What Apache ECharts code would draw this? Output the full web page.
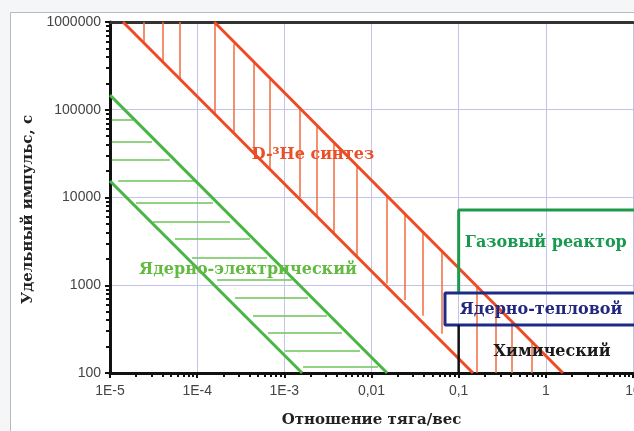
<!DOCTYPE html>
<html>
<head>
<meta charset="utf-8">
<script src="https://cdn.jsdelivr.net/npm/echarts@6/dist/echarts.min.js"></script>
<style>html,body{margin:0;padding:0;background:#f4f6f8;}#c{width:634px;height:431px;}</style>
</head>
<body>
<div id="c"></div>
<script>
// ---- data ----
const xTickLabels = ['1E-5', '1E-4', '1E-3', '0,01', '0,1', '1', '10'];
const yTickLabels = ['100', '1000', '10000', '100000', '1000000'];

// D-3He fusion band boundaries (thrust/weight, specific impulse)
const redUpper = [[1.57e-4, 1e6], [1.57, 100]];
const redLower = [[1.41e-5, 1e6], [0.146, 100]];
// vertical hatching of the D-3He band
const redHatchX = [2.45e-5, 4.06e-5, 6.35e-5, 1.60e-4, 2.65e-4, 4.49e-4, 6.85e-4, 1.51e-3, 2.37e-3, 3.72e-3, 6.82e-3, 0.0151, 0.0242, 0.0390, 0.0644, 0.162, 0.268, 0.409, 0.693];
const redHatchTop = [1e6, 1e6, 1e6, 1e6, 5.6e5, 3.5e5, 2.3e5, 1.0e5, 6.6e4, 4.2e4, 2.3e4, 1.04e4, 6400, 4000, 2400, 960, 580, 380, 225];
const redHatchBottom = [5.75e5, 3.5e5, 2.23e5, 9.2e4, 5.6e4, 3.2e4, 2.1e4, 1.0e4, 6100, 3900, 2100, 1050, 680, 450, 280, 100, 100, 100, 100];

// Nuclear-electric band boundaries
const greenUpper = [[1e-5, 1.47e5], [0.0151, 100]];
const greenLower = [[1e-5, 15400], [0.0016, 100]];
// horizontal hatching of the nuclear-electric band
const greenHatchY = [76400, 42900, 26700, 15400, 8650, 5260, 3370, 2050, 1150, 716, 447, 286, 178, 117];
const greenHatchStart = [1.05e-5, 1.05e-5, 1.05e-5, 1.24e-5, 1.99e-5, 3.11e-5, 5.57e-5, 8.73e-5, 1.69e-4, 2.72e-4, 4.37e-4, 6.50e-4, 1.02e-3, 1.64e-3];
const greenHatchEnd = [1.84e-5, 3.03e-5, 4.87e-5, 9.95e-5, 1.52e-4, 2.38e-4, 4.04e-4, 6.32e-4, 1.22e-3, 1.87e-3, 3.08e-3, 4.58e-3, 7.38e-3, 0.01186];

// regions
const gasBox = [[0.1, 817], [0.1, 7210], [20, 7210]];
const thermalBox = [[20, 817], [0.0697, 817], [0.0697, 352], [20, 352]];
const chemLine = [[0.1, 352], [0.1, 100]];

const regionNames = ['D-³He синтез', 'Ядерно-электрический', 'Газовый реактор', 'Ядерно-тепловой', 'Химический'];
const regionAnchors = [[2.13e-3, 30500], [3.83e-4, 1490], [1.0, 3030], [0.88, 522], [1.18, 173]];
const regionColors = ['#e8502a', '#62ba40', '#179a4f', '#23287e', '#1a1a1a'];

// ---- chart ----
const minorVals = [];
for (let e = -5; e <= 0; e++) for (let m = 1; m <= 9; m++) minorVals.push(m * Math.pow(10, e));
minorVals.push(10);
const minorValsY = [];
for (let e = 2; e <= 5; e++) for (let m = 1; m <= 9; m++) minorValsY.push(m * Math.pow(10, e));
minorValsY.push(1e6);

const redHatch = redHatchX.map((x, i) => ({ coords: [[x, redHatchTop[i]], [x, redHatchBottom[i]]] }));
const greenHatch = greenHatchY.map((y, i) => ({ coords: [[greenHatchStart[i], y], [greenHatchEnd[i], y]] }));

const serif = 'DejaVu Serif';
const tickFont = { fontFamily: 'Liberation Sans', fontSize: 14, color: '#444' };
const chart = echarts.init(document.getElementById('c'));
chart.setOption({
  backgroundColor: '#f4f6f8',
  animation: false,
  graphic: [{
    type: 'rect', left: 10, top: 12, z: -10,
    shape: { width: 700, height: 500 },
    style: { fill: '#ffffff', stroke: '#b9b9b9', lineWidth: 1 }
  }],
  grid: { left: 110, right: 1, top: 22, bottom: 58, outerBoundsMode: 'none', containLabel: false },
  xAxis: [{
    type: 'log', logBase: 10, min: 1e-5, max: 10, interval: 1, position: 'bottom',
    name: 'Отношение тяга/вес', nameLocation: 'middle', nameGap: 40,
    nameTextStyle: { fontFamily: serif, fontWeight: 'bold', fontSize: 15, color: '#222' },
    axisLine: { lineStyle: { color: '#111', width: 3 } },
    axisTick: { show: true, length: 5, lineStyle: { color: '#111', width: 2 } },
    axisLabel: Object.assign({ margin: 11, hideOverlap: false, formatter: v => xTickLabels[Math.round(Math.log10(v)) + 5] }, tickFont),
    splitLine: { show: true, lineStyle: { color: '#c4c4ea', width: 1 } }
  }, {
    type: 'log', logBase: 10, min: 1e-5, max: 10, position: 'top',
    axisLine: { show: true, lineStyle: { color: '#333', width: 3 } },
    axisTick: { show: false }, axisLabel: { show: false }, splitLine: { show: false }
  }, {
    type: 'log', logBase: 10, min: 1e-5, max: 10, position: 'bottom', offset: 0,
    axisLine: { show: false },
    axisTick: { show: true, customValues: minorVals, length: 4, lineStyle: { color: '#111', width: 2 } },
    axisLabel: { show: false }, splitLine: { show: false }
  }],
  yAxis: [{
    type: 'log', logBase: 10, min: 100, max: 1e6, interval: 1, position: 'left',
    name: 'Удельный импульс, с', nameLocation: 'middle', nameGap: 73, nameRotate: 90,
    nameTextStyle: { fontFamily: serif, fontWeight: 'bold', fontSize: 15, color: '#222', padding: [0, 24, 0, 0] },
    axisLine: { lineStyle: { color: '#111', width: 3 } },
    axisTick: { show: true, length: 5, lineStyle: { color: '#111', width: 2 } },
    axisLabel: Object.assign({ margin: 9, formatter: v => yTickLabels[Math.round(Math.log10(v)) - 2] }, tickFont),
    splitLine: { show: true, lineStyle: { color: '#c4c4ea', width: 1 } }
  }, {
    type: 'log', logBase: 10, min: 100, max: 1e6, position: 'left', offset: 0,
    axisLine: { show: false },
    axisTick: { show: true, customValues: minorValsY, length: 4, lineStyle: { color: '#111', width: 2 } },
    axisLabel: { show: false }, splitLine: { show: false }
  }],
  series: [
    { type: 'lines', coordinateSystem: 'cartesian2d', polyline: false, data: redHatch, silent: true,
      lineStyle: { color: '#f26b3f', width: 1.5, opacity: 1 }, z: 3 },
    { type: 'lines', coordinateSystem: 'cartesian2d', polyline: false, data: greenHatch, silent: true,
      lineStyle: { color: '#6cc35a', width: 1.5, opacity: 1 }, z: 3 },
    { type: 'line', data: redUpper, symbol: 'none', lineStyle: { color: '#ef4a23', width: 3 }, z: 4 },
    { type: 'line', data: redLower, symbol: 'none', lineStyle: { color: '#ef4a23', width: 3 }, z: 4 },
    { type: 'line', data: greenUpper, symbol: 'none', lineStyle: { color: '#49b544', width: 3 }, z: 4 },
    { type: 'line', data: greenLower, symbol: 'none', lineStyle: { color: '#49b544', width: 3 }, z: 4 },
    { type: 'line', data: gasBox, symbol: 'none', lineStyle: { color: '#1c9a4a', width: 3 }, z: 5 },
    { type: 'line', data: thermalBox, symbol: 'none', lineStyle: { color: '#1e2a88', width: 3 }, z: 5 },
    { type: 'line', data: chemLine, symbol: 'none', lineStyle: { color: '#111', width: 2.5 }, z: 5 },
    { type: 'scatter', symbolSize: 0, z: 6, silent: true, itemStyle: { opacity: 1 },
      data: regionNames.map((n, i) => ({
        value: regionAnchors[i], name: n,
        label: { show: true, position: 'inside', formatter: n, color: regionColors[i], opacity: 1,
          fontFamily: serif, fontWeight: 'bold', fontSize: 16 }
      }))
    }
  ]
});
</script>
</body>
</html>
